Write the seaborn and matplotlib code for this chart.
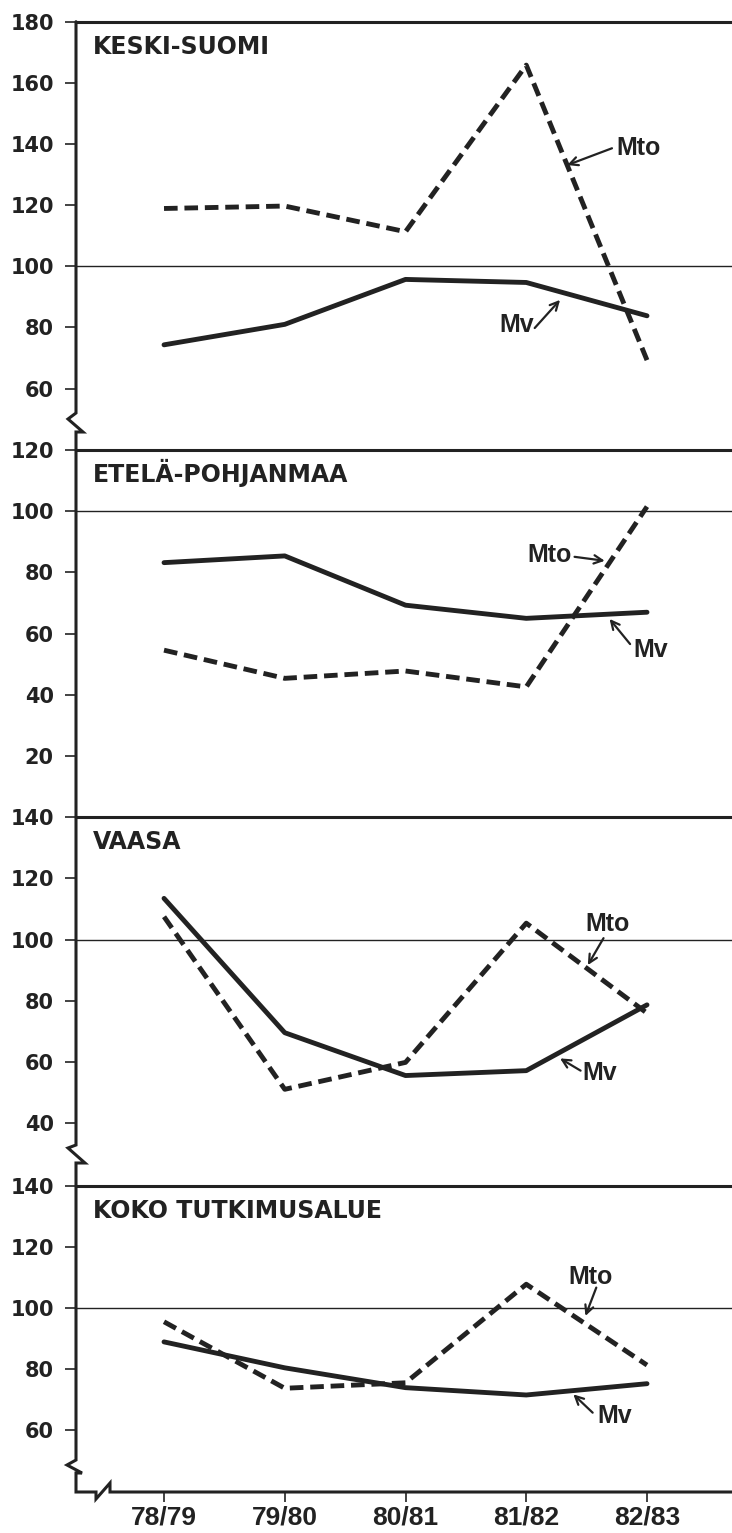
import seaborn as sns
import matplotlib.pyplot as plt
import pandas as pd
import numpy as np
from matplotlib.lines import Line2D

# Data (index values, 100 = reference level)
seasons = ['78/79', '79/80', '80/81', '81/82', '82/83']
regions = ['KESKI-SUOMI', 'ETELÄ-POHJANMAA', 'VAASA', 'KOKO TUTKIMUSALUE']

ks_mv = [74.3, 81.0, 95.7, 94.7, 83.8]
ks_mto = [118.9, 119.7, 111.3, 165.8, 69.3]
ep_mv = [83.2, 85.4, 69.3, 65.0, 67.0]
ep_mto = [54.6, 45.4, 47.8, 42.6, 101.5]
va_mv = [113.5, 69.6, 55.6, 57.2, 78.7]
va_mto = [107.5, 51.1, 59.9, 105.4, 76.0]
kt_mv = [88.9, 80.4, 73.9, 71.5, 75.2]
kt_mto = [95.5, 73.7, 75.5, 107.8, 81.3]

mv_series = [ks_mv, ep_mv, va_mv, kt_mv]
mto_series = [ks_mto, ep_mto, va_mto, kt_mto]

# layout per panel: ylim, y ticks
ylims = [(39.9, 180), (0, 120), (19.5, 140), (39.7, 140)]
yticks = [range(60, 181, 20), range(20, 121, 20), range(40, 141, 20), range(60, 141, 20)]
# label annotations: (text, text pos, arrow tail, arrow head)
notes = [
    [('Mto', (3.93, 138.7), (3.71, 138.6), (3.34, 133.1)),
     ('Mv', (2.92, 80.8), (3.07, 79.8), (3.28, 89.0))],
    [('Mto', (3.19, 85.7), (3.40, 85.1), (3.65, 83.8)),
     ('Mv', (4.03, 54.6), (3.86, 56.6), (3.69, 64.8))],
    [('Mto', (3.67, 105.1), (3.64, 100.5), (3.51, 91.7)),
     ('Mv', (3.61, 56.4), (3.45, 57.2), (3.28, 61.2))],
    [('Mto', (3.53, 110.2), (3.58, 106.7), (3.49, 97.4)),
     ('Mv', (3.73, 64.6), (3.55, 65.7), (3.39, 71.7))],
]

W, H = 732, 1533
ink = '#222222'
sns.set_style('ticks')
plt.rcParams['font.family'] = ['DejaVu Sans']

fig = plt.figure(figsize=(W / 100, H / 100), dpi=100)

# panel boxes in pixels (top, bottom)
panel_px = [(21.7, 450), (450, 817.3), (817.3, 1186), (1186, 1492)]
left_px = 76
x = np.arange(len(seasons))

axes = []
for i, (top, bot) in enumerate(panel_px):
    ax = fig.add_axes([left_px / W, 1 - bot / H, 1 - left_px / W, (bot - top) / H])
    axes.append(ax)
    df = pd.DataFrame({
        'x': np.concatenate([x, x]),
        'value': mv_series[i] + mto_series[i],
        'series': ['Mv'] * len(x) + ['Mto'] * len(x),
    })
    sns.lineplot(data=df, x='x', y='value', style='series',
                 dashes={'Mv': '', 'Mto': (2.8, 1.4)}, color=ink,
                 linewidth=3.5, legend=False, ax=ax, sort=False,
                 solid_capstyle='round', dash_capstyle='butt')
    ax.axhline(100, color=ink, lw=1.0, zorder=1)
    ax.set_xlim(-0.729, 4.704)
    ax.set_ylim(*ylims[i])
    ax.set_yticks(list(yticks[i]))
    ax.set_yticklabels([str(v) for v in yticks[i]], fontsize=15,
                       fontweight='bold', color=ink)
    ax.tick_params(axis='y', direction='out', length=8, width=1.2,
                   pad=8, color=ink)
    ax.set_xlabel('')
    ax.set_ylabel('')
    for s in ['left', 'right', 'bottom']:
        ax.spines[s].set_visible(False)
    ax.spines['top'].set_linewidth(2.2)
    ax.spines['top'].set_color(ink)
    ax.annotate(regions[i], xy=(0, 1), xycoords='axes fraction',
                xytext=(17, -32), textcoords='offset pixels',
                ha='left', va='baseline', fontsize=17, fontweight='bold',
                color=ink)
    for label, tpos, tail, head in notes[i]:
        ax.text(*tpos, label, ha='center', va='center', fontsize=18,
                fontweight='bold', color=ink, family='Liberation Sans')
        ax.annotate('', xy=head, xytext=tail,
                    arrowprops=dict(arrowstyle='->,head_length=0.6,head_width=0.3',
                                    lw=1.6, color=ink, shrinkA=0, shrinkB=0))
    if i < 3:
        ax.set_xticks([])
    else:
        ax.set_xticks(x)
        ax.set_xticklabels(seasons, fontsize=19, fontweight='bold',
                           color=ink, family='Liberation Sans')
        ax.tick_params(axis='x', direction='out', length=7, width=1.2,
                       pad=3, color=ink)


def fp(px, py):
    return px / W, 1 - py / H


# left axis with breaks and bottom axis (drawn in figure pixels)
spine = [(76, 21.7), (76, 413), (68, 419), (83, 432), (76, 432),
         (76, 1145), (68, 1148), (85, 1163), (76, 1163),
         (76, 1460), (67, 1465), (82, 1473), (76, 1473),
         (76, 1492), (96, 1492), (96, 1499), (110, 1483), (110, 1492),
         (732, 1492)]
xs, ys = zip(*[fp(a, b) for a, b in spine])
fig.add_artist(Line2D(xs, ys, transform=fig.transFigure, color=ink,
                      lw=2.2, solid_joinstyle='miter'))

fig.savefig('out.png', dpi=100, facecolor='white')
